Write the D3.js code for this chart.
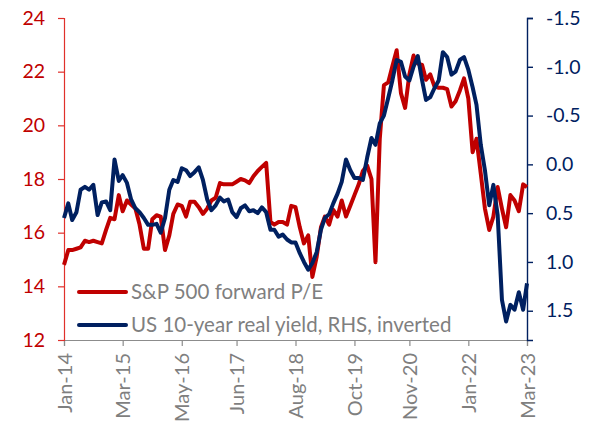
<!DOCTYPE html>
<html lang="en">
<head>
    <meta charset="UTF-8">
    <title>S&P 500 forward P/E vs US real yield</title>
    <script src="https://d3js.org/d3.v7.min.js"></script>
    <style>
        body { margin: 0; background: #fff; }
        svg text { font-family: Lato, "Open Sans", sans-serif; }
    </style>
</head>
<body>
    <div id="chart"></div>

    <script>
        // monthly observations, Jan-14 .. Mar-23
        var startMonth = new Date(2014, 0, 1);
        var endMonth = new Date(2023, 2, 1);
        var months = d3.timeMonth.range(startMonth, d3.timeMonth.offset(endMonth, 1));

        // S&P 500 forward P/E (left axis)
        var forwardPE = [
            14.8, 15.35, 15.35, 15.4, 15.45, 15.7, 15.65, 15.7, 15.65, 15.6, 16.1, 16.55,
            16.5, 17.4, 16.8, 17.2, 17.05, 16.9, 16.3, 15.4, 15.4, 16.5, 16.65, 16.6,
            15.35, 15.9, 16.7, 17.05, 17.0, 16.6, 17.15, 17.15, 16.95, 16.7, 16.9, 17.2,
            17.3, 17.85, 17.8, 17.8, 17.8, 17.9, 18.0, 17.95, 17.85, 18.1, 18.3, 18.45,
            18.6, 16.4, 16.3, 16.4, 16.4, 16.3, 17.0, 16.95, 16.2, 15.6, 15.9, 14.35,
            15.1, 16.2, 16.6, 16.3, 16.85, 16.6, 17.2, 16.6, 17.0, 17.4, 17.8, 18.3,
            18.5, 18.0, 14.9, 19.5, 21.5, 21.6, 22.2, 22.8, 21.2, 20.65, 21.9, 22.6,
            22.3, 22.25, 21.7, 21.9, 21.45, 21.4, 21.4, 21.35, 20.7, 20.9, 21.3, 21.75,
            21.0, 19.0, 19.5, 18.2, 16.9, 16.1, 16.6, 17.7, 16.9, 16.2, 17.4, 17.2,
            16.8, 17.8, 17.7
        ];

        // US 10-year real yield, % (right axis, inverted)
        var realYield = [
            0.55, 0.40, 0.57, 0.49, 0.26, 0.23, 0.26, 0.21, 0.52, 0.39, 0.38, 0.47,
            -0.05, 0.17, 0.11, 0.19, 0.36, 0.45, 0.49, 0.55, 0.62, 0.62, 0.61, 0.70,
            0.55, 0.26, 0.16, 0.18, 0.04, 0.06, 0.12, 0.08, 0.03, 0.16, 0.36, 0.47,
            0.42, 0.34, 0.38, 0.36, 0.49, 0.54, 0.45, 0.42, 0.48, 0.47, 0.50, 0.44,
            0.49, 0.67, 0.67, 0.74, 0.72, 0.77, 0.80, 0.80, 0.91, 1.00, 1.08, 1.01,
            0.90, 0.67, 0.55, 0.51, 0.40, 0.30, 0.18, -0.05, 0.06, 0.14, 0.14, 0.16,
            -0.07, -0.27, -0.20, -0.42, -0.50, -0.68, -0.86, -1.07, -1.05, -0.90, -0.86, -1.00,
            -1.11, -0.86, -0.66, -0.69, -0.78, -0.86, -1.15, -1.10, -0.92, -0.95, -1.07, -1.10,
            -0.97, -0.79, -0.61, -0.20, 0.06, 0.42, 0.21, 0.52, 1.39, 1.61, 1.44, 1.49,
            1.31, 1.49, 1.22
        ];

        var tickLabels = ["Jan-14", "Mar-15", "May-16", "Jun-17", "Aug-18", "Oct-19", "Nov-20", "Jan-22", "Mar-23"];
        var leftTicks = [12, 14, 16, 18, 20, 22, 24];
        var rightTicks = [-1.5, -1.0, -0.5, 0.0, 0.5, 1.0, 1.5];
        var seriesNames = ["S&P 500 forward P/E", "US 10-year real yield, RHS, inverted"];

        var red = "#c00000", navy = "#002060", grey = "#7f7f7f";

        var svg = d3.select("#chart")
            .append("svg")
            .attr("width", 590)
            .attr("height", 423);

        var margin = { top: 18, right: 63, bottom: 83, left: 64 };
        var width = +svg.attr("width") - margin.left - margin.right;
        var height = +svg.attr("height") - margin.top - margin.bottom;

        var parseTick = d3.timeParse("%b-%y");
        var x = d3.scaleTime().domain([startMonth, endMonth]).range([0, width]);
        var yLeft = d3.scaleLinear().domain([12, 24]).range([height, 0]);
        var yRight = d3.scaleLinear().domain([-1.5, 1.8]).range([0, height]); // inverted

        var g = svg.append("g")
            .attr("transform", "translate(" + margin.left + "," + margin.top + ")");

        // bottom axis
        var xAxis = g.append("g")
            .attr("transform", "translate(0," + height + ")")
            .call(d3.axisBottom(x)
                .tickValues(tickLabels.map(parseTick))
                .tickFormat(d3.timeFormat("%b-%y"))
                .tickSizeOuter(0)
                .tickSize(6));
        xAxis.select(".domain").attr("stroke", "#8c8c8c").attr("stroke-width", 1.2);
        xAxis.selectAll(".tick line").attr("stroke", "#8c8c8c").attr("stroke-width", 1.2);
        xAxis.selectAll("text")
            .attr("fill", grey)
            .style("font-size", "20px")
            .style("text-anchor", "end")
            .attr("transform", "rotate(-90)")
            .attr("x", -13)
            .attr("y", 0)
            .attr("dy", "0.36em");

        // left axis
        var leftAxis = g.append("g")
            .call(d3.axisLeft(yLeft).tickValues(leftTicks).tickSizeOuter(0).tickSize(6).tickPadding(13));
        leftAxis.select(".domain").attr("stroke", "#e0302b").attr("stroke-width", 1.2);
        leftAxis.selectAll(".tick line").attr("stroke", "#e0302b").attr("stroke-width", 1.2);
        leftAxis.selectAll("text").attr("fill", red).style("font-size", "19.5px");

        // right axis
        var rightAxis = g.append("g")
            .attr("transform", "translate(" + width + ",0)")
            .call(d3.axisRight(yRight).tickValues(rightTicks).tickFormat(d3.format(".1f"))
                .tickSizeOuter(0).tickSize(6).tickPadding(13));
        rightAxis.select(".domain").attr("stroke", navy).attr("stroke-width", 1.4);
        rightAxis.selectAll(".tick line").attr("stroke", navy).attr("stroke-width", 1.4);
        rightAxis.selectAll("text").attr("fill", navy).style("font-size", "19.5px")
            .text(function(d) { return d3.format(".1f")(d).replace("\u2212", "-"); });

        // lines
        var peLine = d3.line()
            .x(function(d, i) { return x(months[i]); })
            .y(function(d) { return yLeft(d); });
        var ryLine = d3.line()
            .x(function(d, i) { return x(months[i]); })
            .y(function(d) { return yRight(d); });

        g.append("path")
            .datum(forwardPE)
            .attr("d", peLine)
            .attr("fill", "none")
            .attr("stroke", red)
            .attr("stroke-width", 4)
            .attr("stroke-linejoin", "round");

        g.append("path")
            .datum(realYield)
            .attr("d", ryLine)
            .attr("fill", "none")
            .attr("stroke", navy)
            .attr("stroke-width", 4)
            .attr("stroke-linejoin", "round");

        // legend
        var legend = svg.append("g")
            .attr("transform", "translate(79,292)");
        [red, navy].forEach(function(c, i) {
            legend.append("line")
                .attr("x1", 0).attr("x2", 47)
                .attr("y1", i * 33).attr("y2", i * 33)
                .attr("stroke", c)
                .attr("stroke-width", 4)
                .attr("stroke-linecap", "round");
            legend.append("text")
                .attr("x", 52)
                .attr("y", i * 33)
                .attr("dy", "0.35em")
                .attr("fill", grey)
                .style("font-size", "20.5px")
                .text(seriesNames[i]);
        });
    </script>
</body>
</html>
